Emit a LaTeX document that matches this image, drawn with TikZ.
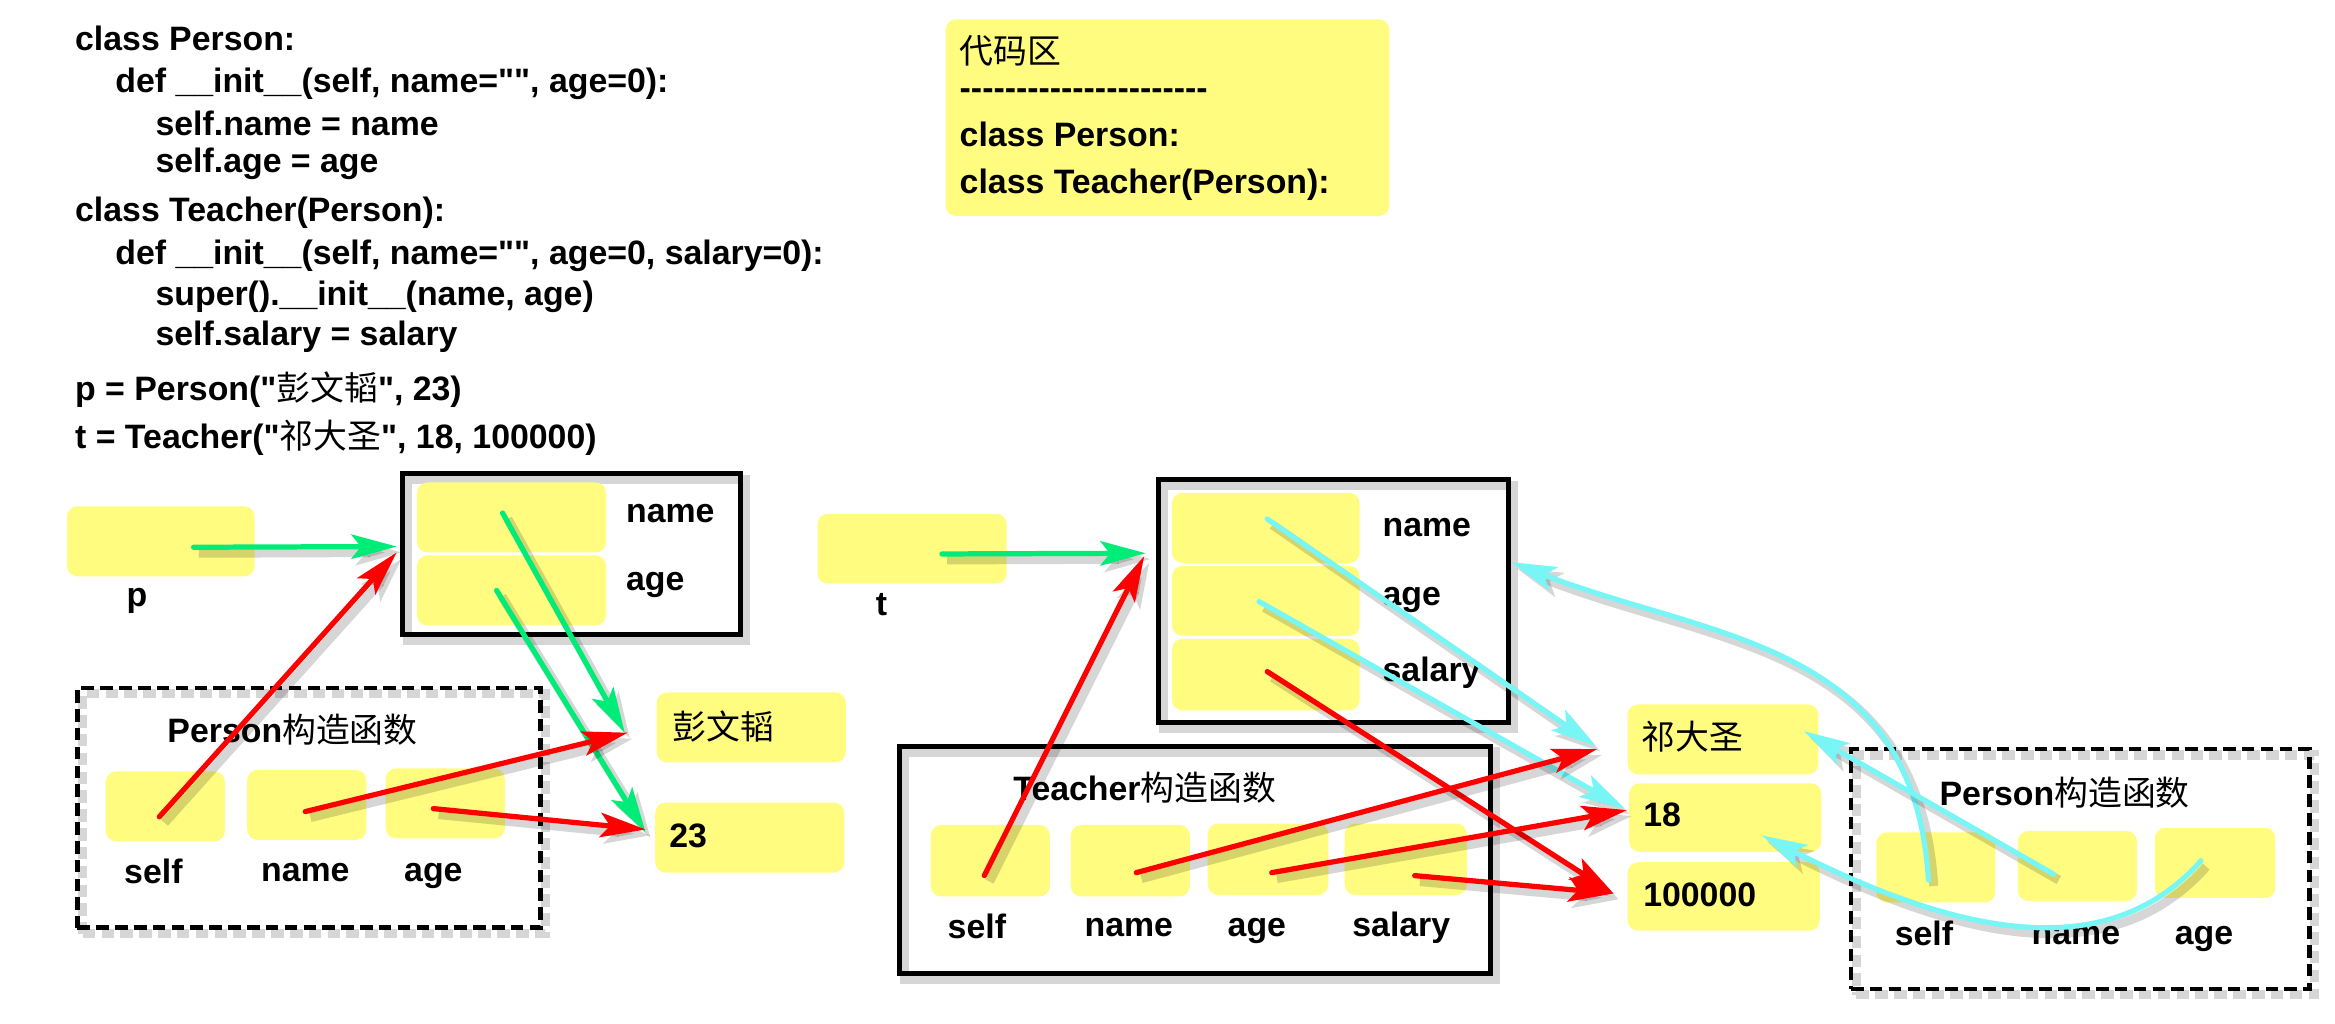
\documentclass[tikz,border=0pt]{standalone}
\usepackage{fontspec}
\setmainfont{Liberation Sans}[Ligatures=TeXOff]
\newfontfamily\cjk{Noto Sans CJK SC}
\usetikzlibrary{arrows.meta,fit,calc}
\definecolor{cyel}{RGB}{255,252,128}
\definecolor{cgreen}{RGB}{0,236,120}
\definecolor{ccyan}{RGB}{120,246,246}
\definecolor{cred}{RGB}{255,0,0}
\newcommand\zhtxt[1]{{\cjk\mdseries #1}}
\newcommand\hy{\mbox{-}}
\begin{document}
\begin{tikzpicture}[x=0.015cm,y=-0.015cm,
 every node/.style={font=\fontsize{9.7}{11.6}\selectfont\bfseries},
 txt/.style={inner sep=0pt, anchor=west},
 blab/.style={inner sep=0pt, anchor=base},
 slot/.style={fill=cyel, rounded corners=3pt, inner sep=0pt, draw=none},
 shd/.style={preaction={draw=black, opacity=0.16, line width=2.6pt, transform canvas={shift={(1.5pt,-1.7pt)}}}},
 objbox/.style={shd, draw=black, line width=1.4pt, inner sep=0pt},
 ctorbox/.style={shd, draw=black, line width=1.3pt, dash pattern=on 3.6pt off 1.8pt, inner sep=0pt},
 arr/.style={shd, line width=1.5pt, line cap=round, -{Stealth[length=13pt,width=7pt,inset=2.8pt]}},
 garr/.style={arr, draw=cgreen},
 rarr/.style={arr, draw=cred},
 carr/.style={arr, draw=ccyan},
]
\useasboundingbox (0,0) rectangle (1568,687.6);

% code listing
\node[txt] (c1) at (50,26) {class Person:};
\node[txt] (c2) at (77,56) {def \_\_init\_\_(self, name="", age=0):};
\node[txt] (c3) at (104,83) {self.name = name};
\node[txt] (c4) at (104,110) {self.age = age};
\node[txt] (c5) at (50,143) {class Teacher(Person):};
\node[txt] (c6) at (77,172) {def \_\_init\_\_(self, name="", age=0, salary=0):};
\node[txt] (c7) at (104,199) {super().\_\_init\_\_(name, age)};
\node[txt] (c8) at (104,226) {self.salary = salary};
\node[txt] (c9) at (50,262) {p = Person("\zhtxt{彭文韬}", 23)};
\node[txt] (c10) at (50,294) {t = Teacher("\zhtxt{祁大圣}", 18, 100000)};

% code area box
\node[slot, fit={(635,13)(933,145)}] (codebox) {};
\node[txt] (cb1) at (644,34) {\zhtxt{代码区}};
\node[txt] (cb2) at (644,63) {\hy\hy\hy\hy\hy\hy\hy\hy\hy\hy\hy\hy\hy\hy\hy\hy\hy\hy\hy\hy\hy\hy};
\node[txt] (cb3) at (644,90) {class Person:};
\node[txt] (cb4) at (644,124) {class Teacher(Person):};

% ---------- left part ----------
\node[slot, fit={(45,340)(171,387)}] (pbox) {};
\node[blab] (plab) at (92,407) {p};
\node[objbox, fit={(270,318)(497,426)}] (pobj) {};
\node[slot, fit={(280,324)(407,371)}] (pname) {};
\node[slot, fit={(280,373)(407,420)}] (page) {};
\node[txt] (pnamel) at (420,345) {name};
\node[txt] (pagel) at (420,393) {age};

\node[ctorbox, fit={(52,462)(363,623)}] (pctor) {};
\node[txt] (pctort) at (112,490) {Person\zhtxt{构造函数}};
\node[slot, fit={(71,518)(151,565)}] (pself) {};
\node[slot, fit={(166,517)(246,564)}] (pnm) {};
\node[slot, fit={(259,516)(339,563)}] (pag) {};
\node[blab] (pselfl) at (103,593) {self};
\node[blab] (pnml) at (205,592) {name};
\node[blab] (pagl) at (291,592) {age};

\node[slot, fit={(441,465)(568,512)}] (vp1) {};
\node[txt] (vp1t) at (451,488) {\zhtxt{彭文韬}};
\node[slot, fit={(440,539)(567,586)}] (vp2) {};
\node[txt] (vp2t) at (449,561) {23};

% ---------- right part ----------
\node[slot, fit={(549,345)(676,392)}] (tbox) {};
\node[blab] (tlab) at (592,413) {t};
\node[objbox, fit={(778,322)(1013,485)}] (tobj) {};
\node[slot, fit={(787,331)(913,378)}] (tname) {};
\node[slot, fit={(787,380)(913,427)}] (tage) {};
\node[slot, fit={(787,429)(913,477)}] (tsal) {};
\node[txt] (tnamel) at (928,354) {name};
\node[txt] (tagel) at (928,403) {age};
\node[txt] (tsall) at (928,452) {salary};

\node[objbox, fit={(604,501)(1001,654)}] (tctor) {};
\node[txt] (tctort) at (680,529) {Teacher\zhtxt{构造函数}};
\node[slot, fit={(625,554)(705,602)}] (tcself) {};
\node[slot, fit={(719,554)(799,602)}] (tcname) {};
\node[slot, fit={(811,553)(892,601)}] (tcage) {};
\node[slot, fit={(903,553)(985,601)}] (tcsal) {};
\node[blab] (tcselfl) at (656,630) {self};
\node[blab] (tcnamel) at (758,629) {name};
\node[blab] (tcagel) at (844,629) {age};
\node[blab] (tcsall) at (941,629) {salary};

\node[slot, fit={(1093,473)(1221,520)}] (vt1) {};
\node[txt] (vt1t) at (1102,495) {\zhtxt{祁大圣}};
\node[slot, fit={(1094,526)(1223,572)}] (vt2) {};
\node[txt] (vt2t) at (1103,547) {18};
\node[slot, fit={(1093,579)(1222,625)}] (vt3) {};
\node[txt] (vt3t) at (1103,601) {100000};

\node[ctorbox, fit={(1243,503)(1551,664)}] (p2ctor) {};
\node[txt] (p2ctort) at (1302,532) {Person\zhtxt{构造函数}};
\node[slot, fit={(1260,559)(1340,606)}] (p2self) {};
\node[slot, fit={(1355,558)(1435,605)}] (p2name) {};
\node[slot, fit={(1447,556)(1528,603)}] (p2age) {};
\node[blab] (p2selfl) at (1292,635) {self};
\node[blab] (p2namel) at (1394,634) {name};
\node[blab] (p2agel) at (1480,634) {age};

% ---------- arrows left ----------
\draw[garr] ($(pbox.center)+(22,4)$) -- ($(pobj.west)+(-2,-5)$);
\draw[rarr] ($(pself.center)+(-4,7)$) -- ($(pobj.west)+(-2,-1)$);
\draw[garr] ($(pname.center)+(-6,-3)$) -- ($(vp1.west)+(-21,3.5)$);
\draw[garr] ($(page.center)+(-10,0)$) -- ($(vp2.west)+(-6,-3.5)$);
\draw[rarr] ($(pnm.center)+(-1,4.5)$) -- ($(vp1.west)+(-19,3.5)$);
\draw[rarr] ($(pag.center)+(-8,3.5)$) -- ($(vp2.west)+(-6,-5.5)$);

% ---------- arrows right ----------
\draw[garr] ($(tbox.center)+(20,3.5)$) -- ($(tobj.west)+(-7,-32)$);
\draw[rarr] ($(tcself.center)+(-4,10)$) -- ($(tobj.west)+(-8,-30)$);
\draw[carr] ($(tname.center)+(1,-6)$) -- ($(vt1.west)+(-21,4.5)$);
\draw[carr] ($(tage.center)+(-4.5,0.5)$) -- ($(vt2.west)+(-2.5,-6)$);
\draw[rarr] ($(tsal.center)+(1,-2)$) -- ($(vt3.west)+(-9,-2)$);
\draw[rarr] ($(tcname.center)+(4,8)$) -- ($(vt1.west)+(-20,6.5)$);
\draw[rarr] ($(tcage.center)+(2.5,9)$) -- ($(vt2.west)+(-1,-5)$);
\draw[rarr] ($(tcsal.center)+(6,11)$) -- ($(vt3.west)+(-9,-2)$);
\draw[carr] ($(p2self.center)+(-5,8.5)$) .. controls (1285,430) and (1150,430) .. ($(tobj.east)+(0,-26)$);
\draw[carr] ($(p2name.center)+(-16,5.5)$) -- ($(vt1.east)+(-10,-5.5)$);
\draw[carr] ($(p2age.center)+(-9.5,-1.5)$) .. controls (1410,655) and (1300,620) .. ($(vt2.center)+(24.5,12)$);
\end{tikzpicture}
\end{document}
